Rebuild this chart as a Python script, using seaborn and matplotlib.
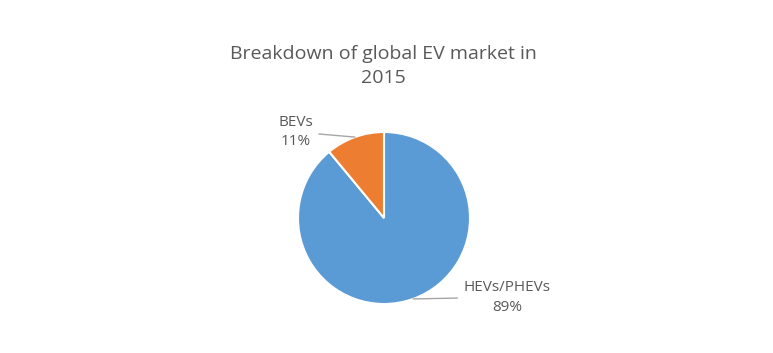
import numpy as np
import seaborn as sns
import matplotlib.pyplot as plt

# data
categories = ["HEVs/PHEVs", "BEVs"]
shares = [89, 11]
colors = ["#5B9BD5", "#ED7D31"]

sns.set_theme(style="white")
plt.rcParams["font.family"] = ["Open Sans", "DejaVu Sans"]
grey = "#595959"

fig = plt.figure(figsize=(7.73, 3.53), dpi=100)
fig.patch.set_facecolor("white")

# pie axes: centre ~(384,218) px, radius ~86 px
cx, cy, r = 384, 218, 86
W, H = 773, 353
ax = fig.add_axes([(cx - r) / W, (H - cy - r) / H, 2 * r / W, 2 * r / H])

wedges, _ = ax.pie(shares, colors=colors, startangle=90, counterclock=False,
                   wedgeprops=dict(edgecolor="white", linewidth=1.5))
ax.set_xlim(-1, 1)
ax.set_ylim(-1, 1)
ax.set_aspect("equal")
ax.axis("off")

label_pos = {"HEVs/PHEVs": (1.43, -0.92), "BEVs": (-1.03, 1.0)}
for w, name, pct in zip(wedges, categories, shares):
    mid = np.deg2rad((w.theta1 + w.theta2) / 2)
    edge = (np.cos(mid), np.sin(mid))
    ax.annotate(f"{name}\n{pct}%", xy=edge, xytext=label_pos[name],
                ha="center", va="center", fontsize=11, color=grey,
                annotation_clip=False, linespacing=1.45,
                arrowprops=dict(arrowstyle="-", color="#A6A6A6", lw=1,
                                shrinkA=2, shrinkB=0))

fig.text(0.496, 0.872, "Breakdown of global EV market in\n2015",
         ha="center", va="top", fontsize=14, color=grey, linespacing=1.42)

fig.savefig("out.png", dpi=100)
